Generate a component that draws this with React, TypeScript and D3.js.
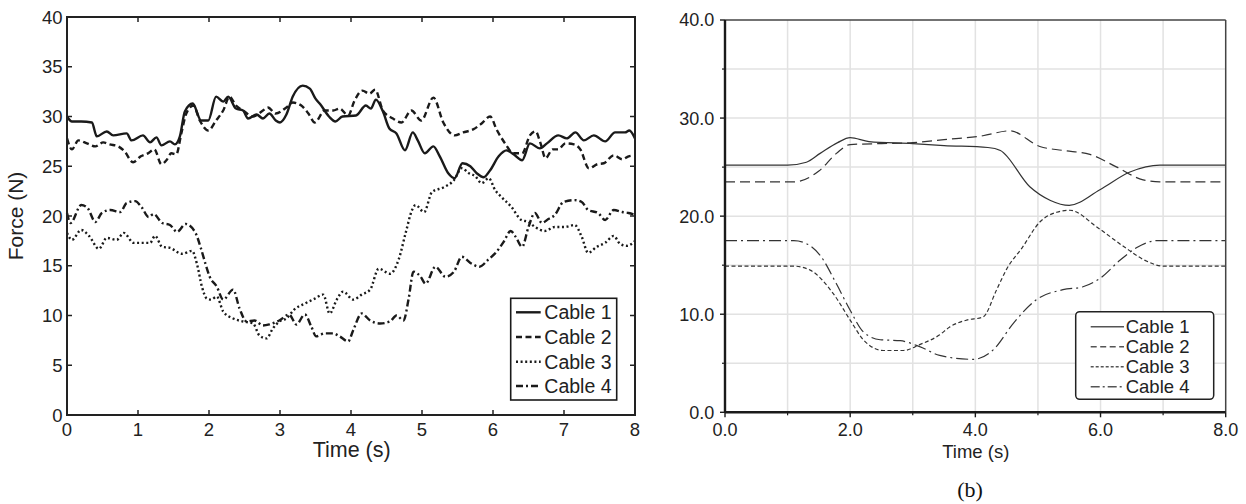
import React from "react";
import * as d3 from "d3";

// ---------- Data ----------
const seriesNames = ["Cable 1", "Cable 2", "Cable 3", "Cable 4"];

// Left panel: measured forces (time s, force N)
const leftCable1: [number, number][] = [[0,30.0],[0.07,29.5],[0.2,29.5],[0.35,29.4],[0.42,28.0],[0.56,28.5],[0.65,28.1],[0.84,28.3],[0.91,27.6],[1.07,28.1],[1.17,27.4],[1.26,27.9],[1.33,27.1],[1.45,27.5],[1.52,27.2],[1.59,28.0],[1.66,30.5],[1.77,31.3],[1.89,29.6],[1.99,29.6],[2.1,32.0],[2.2,31.5],[2.27,32.0],[2.38,30.8],[2.48,30.6],[2.55,29.8],[2.67,30.2],[2.76,29.8],[2.85,30.3],[2.94,29.6],[3.0,29.4],[3.09,30.2],[3.18,32.0],[3.32,33.1],[3.42,32.8],[3.5,31.8],[3.57,31.2],[3.69,30.0],[3.78,29.5],[3.88,30.0],[4.07,30.1],[4.21,31.1],[4.28,30.8],[4.35,31.7],[4.45,30.5],[4.54,28.8],[4.64,28.3],[4.76,26.6],[4.87,28.4],[4.94,27.6],[5.04,26.3],[5.16,27.0],[5.25,26.0],[5.37,24.3],[5.46,23.8],[5.57,25.3],[5.68,25.0],[5.77,24.3],[5.87,23.9],[5.96,24.6],[6.08,26.0],[6.19,26.6],[6.29,26.2],[6.41,25.6],[6.52,27.3],[6.66,26.8],[6.76,27.3],[6.92,28.1],[7.04,27.8],[7.16,28.4],[7.28,27.6],[7.42,28.1],[7.58,27.5],[7.72,28.4],[7.86,28.4],[7.92,28.6],[8.0,27.8]];
const leftCable2: [number, number][] = [[0,27.8],[0.07,26.7],[0.16,27.6],[0.28,27.3],[0.4,27.0],[0.51,27.4],[0.6,27.2],[0.72,27.0],[0.81,26.5],[0.93,25.4],[1.04,26.0],[1.14,26.3],[1.23,26.7],[1.33,25.2],[1.4,25.6],[1.47,26.3],[1.54,26.2],[1.61,28.3],[1.68,30.3],[1.78,31.1],[1.87,29.6],[1.99,28.6],[2.1,29.6],[2.2,30.6],[2.29,32.0],[2.38,31.1],[2.48,30.6],[2.62,30.0],[2.76,30.6],[2.83,30.9],[2.94,30.3],[3.09,30.9],[3.18,31.4],[3.3,31.1],[3.4,30.3],[3.49,29.4],[3.63,30.6],[3.75,30.6],[3.84,30.8],[3.96,30.1],[4.05,31.6],[4.16,32.6],[4.26,32.3],[4.34,32.7],[4.45,30.6],[4.59,29.8],[4.71,29.4],[4.85,30.6],[4.99,29.6],[5.16,31.9],[5.3,29.4],[5.46,28.1],[5.58,28.4],[5.72,28.7],[5.84,29.3],[5.96,30.0],[6.05,28.7],[6.17,27.3],[6.29,26.3],[6.41,26.3],[6.52,28.1],[6.6,28.5],[6.67,27.3],[6.74,25.8],[6.84,26.7],[6.92,26.7],[7.02,27.3],[7.14,27.2],[7.23,26.7],[7.35,24.8],[7.47,25.2],[7.56,25.3],[7.7,26.1],[7.82,25.7],[7.91,26.0],[8.0,26.1]];
const leftCable3: [number, number][] = [[0,18.3],[0.07,17.6],[0.2,18.6],[0.31,18.0],[0.45,16.7],[0.56,17.8],[0.7,17.6],[0.8,18.3],[0.94,17.3],[1.17,17.3],[1.24,18.0],[1.34,16.9],[1.45,16.8],[1.62,16.2],[1.76,16.5],[1.83,15.2],[1.9,12.9],[1.97,11.7],[2.03,11.6],[2.11,11.9],[2.2,10.4],[2.34,9.7],[2.48,9.4],[2.62,9.2],[2.71,8.0],[2.81,7.7],[2.9,8.7],[2.99,9.4],[3.09,9.7],[3.2,10.6],[3.35,11.2],[3.49,11.7],[3.61,12.1],[3.7,10.2],[3.8,11.6],[3.89,12.4],[4.03,11.6],[4.15,12.1],[4.27,12.6],[4.39,14.7],[4.55,14.2],[4.67,15.6],[4.77,18.3],[4.86,20.6],[4.91,21.1],[5.03,20.4],[5.14,22.4],[5.31,22.9],[5.45,23.6],[5.56,24.8],[5.66,24.3],[5.75,24.0],[5.84,23.3],[5.94,23.8],[6.03,22.6],[6.12,21.9],[6.26,20.9],[6.4,19.6],[6.5,19.4],[6.59,18.9],[6.73,18.5],[6.87,18.9],[7.01,18.9],[7.15,19.1],[7.25,17.9],[7.34,16.3],[7.46,16.9],[7.58,17.3],[7.7,18.0],[7.79,17.2],[7.89,17.0],[8.0,17.5]];
const leftCable4: [number, number][] = [[0,20.3],[0.05,19.3],[0.2,21.1],[0.29,20.8],[0.4,19.4],[0.49,20.3],[0.61,20.6],[0.75,20.4],[0.84,21.3],[0.96,21.5],[1.05,20.9],[1.15,19.9],[1.22,20.2],[1.34,19.3],[1.45,19.1],[1.55,18.4],[1.67,19.2],[1.81,18.3],[1.88,16.9],[1.95,15.2],[2.01,13.9],[2.11,12.9],[2.2,11.6],[2.34,12.6],[2.43,10.7],[2.53,9.4],[2.64,9.5],[2.76,9.0],[2.85,9.1],[2.99,9.5],[3.13,10.1],[3.23,9.1],[3.35,10.1],[3.44,8.9],[3.51,7.9],[3.63,8.2],[3.75,8.2],[3.84,7.9],[3.96,7.4],[4.03,8.5],[4.15,10.2],[4.27,9.5],[4.41,9.2],[4.55,9.4],[4.64,10.0],[4.74,9.5],[4.81,11.6],[4.88,14.4],[4.98,13.9],[5.05,13.2],[5.19,14.9],[5.33,13.9],[5.45,14.4],[5.56,15.9],[5.7,15.2],[5.81,14.9],[5.93,15.6],[6.05,16.4],[6.15,17.4],[6.25,18.5],[6.32,17.9],[6.41,16.9],[6.5,18.9],[6.59,20.3],[6.69,19.3],[6.78,19.7],[6.87,20.1],[6.99,21.4],[7.15,21.6],[7.25,21.4],[7.34,20.6],[7.48,20.3],[7.58,19.6],[7.7,20.6],[7.82,20.4],[7.91,20.3],[8.0,20.1]];

// Right panel (b): simulated forces
const rightCable1: [number, number][] = [[0,25.2],[1.0,25.2],[1.3,25.5],[1.52,26.4],[1.8,27.5],[2.0,28.0],[2.3,27.6],[3.0,27.4],[3.5,27.2],[4.2,27.0],[4.4,26.7],[4.87,23.0],[5.2,21.6],[5.5,21.1],[5.99,22.7],[6.47,24.5],[6.95,25.2],[8,25.2]];
const rightCable2: [number, number][] = [[0,23.5],[1.1,23.5],[1.5,24.6],[1.78,26.4],[2.0,27.3],[2.5,27.4],[3.0,27.5],[3.5,27.8],[4.12,28.2],[4.55,28.7],[5.03,27.1],[5.4,26.7],[5.83,26.3],[6.26,25.0],[6.68,23.7],[6.95,23.5],[8,23.5]];
const rightCable3: [number, number][] = [[0,14.9],[1.1,14.9],[1.36,14.5],[1.73,12.1],[2.0,9.4],[2.21,7.4],[2.53,6.3],[2.85,6.3],[3.11,6.9],[3.43,7.9],[3.59,8.7],[3.86,9.4],[4.12,9.7],[4.34,12.5],[4.5,14.6],[4.75,16.8],[5.03,19.4],[5.3,20.4],[5.51,20.6],[5.94,18.9],[6.37,16.9],[6.74,15.4],[7.0,14.9],[8,14.9]];
const rightCable4: [number, number][] = [[0,17.5],[1.1,17.5],[1.3,17.2],[1.52,16.0],[1.78,13.1],[2.0,10.4],[2.21,8.2],[2.48,7.4],[2.8,7.3],[3.11,6.7],[3.43,5.8],[3.97,5.4],[4.29,6.4],[4.61,9.1],[4.98,11.5],[5.4,12.5],[5.72,12.8],[6.0,13.7],[6.31,15.5],[6.58,16.8],[6.9,17.5],[8,17.5]];

const leftXTicks = [0, 1, 2, 3, 4, 5, 6, 7, 8];
const leftYTicks = [0, 5, 10, 15, 20, 25, 30, 35, 40];
const rightXTicks = [0, 2, 4, 6, 8];
const rightXMinor = [1, 3, 5, 7];
const rightYTicks = [0, 10, 20, 30, 40];
const rightYMinor = [5, 15, 25, 35];

const leftSeries = [leftCable1, leftCable2, leftCable3, leftCable4];
const rightSeries = [rightCable1, rightCable2, rightCable3, rightCable4];

const leftDash = [null, "6,3.5", "2,2.6", "7,3,2,3"];
const rightDash = [null, "10,5", "4,2.5", "12,4,2,4"];
const rightLegendDash = [null, "6,3.5", "3,2", "9,3,2,3"];

const FONT = "'Liberation Sans', Arial, Helvetica, sans-serif";

export default function App() {
  const xL = d3.scaleLinear().domain([0, 8]).range([67, 635]);
  const yL = d3.scaleLinear().domain([0, 40]).range([415, 17]);
  const xR = d3.scaleLinear().domain([0, 8]).range([725, 1225.7]);
  const yR = d3.scaleLinear().domain([0, 40]).range([412.3, 20]);

  const lineL = d3.line<[number, number]>().x(d => xL(d[0])).y(d => yL(d[1])).curve(d3.curveMonotoneX);
  const lineR = d3.line<[number, number]>().x(d => xR(d[0])).y(d => yR(d[1])).curve(d3.curveMonotoneX);

  const legL = { x: 510.7, y: 298.3, w: 106, h: 101.7, rows: [312.3, 337, 361.7, 386] };
  const legR = { x: 1075.7, y: 311.7, w: 138, h: 87.6, rows: [326.7, 346.7, 366.7, 386.7] };

  return (
    <svg width={1246} height={504} style={{ position: "absolute", left: 0, top: 0, background: "#fff" }} fontFamily={FONT}>
      {/* ---------------- Left panel ---------------- */}
      <g>
        {leftSeries.map((s, i) => (
          <path key={i} d={lineL(s) || ""} fill="none" stroke="#1a1a1a" strokeWidth={2.4}
            strokeDasharray={leftDash[i] || undefined} strokeLinejoin="round" />
        ))}
        <rect x={xL(0)} y={yL(40)} width={xL(8) - xL(0)} height={yL(0) - yL(40)} fill="none" stroke="#222" strokeWidth={2} />
        {leftXTicks.map(t => (
          <g key={"lxt" + t}>
            <line x1={xL(t)} x2={xL(t)} y1={yL(0)} y2={yL(0) - 5} stroke="#222" strokeWidth={1.5} />
            <line x1={xL(t)} x2={xL(t)} y1={yL(40)} y2={yL(40) + 5} stroke="#222" strokeWidth={1.5} />
            <text x={xL(t)} y={435.7} fontSize={18.5} textAnchor="middle" fill="#222">{String(t)}</text>
          </g>
        ))}
        {leftYTicks.map(v => (
          <g key={"lyt" + v}>
            <line x1={xL(0)} x2={xL(0) + 5} y1={yL(v)} y2={yL(v)} stroke="#222" strokeWidth={1.5} />
            <line x1={xL(8)} x2={xL(8) - 5} y1={yL(v)} y2={yL(v)} stroke="#222" strokeWidth={1.5} />
            <text x={62.5} y={yL(v)} dy="0.36em" fontSize={18.5} textAnchor="end" fill="#222">{String(v)}</text>
          </g>
        ))}
        <text x={351.7} y={457.3} fontSize={21.5} textAnchor="middle" fill="#222">Time (s)</text>
        <text transform={`translate(23,216) rotate(-90)`} fontSize={21} textAnchor="middle" fill="#222">Force (N)</text>
        <rect x={legL.x} y={legL.y} width={legL.w} height={legL.h} fill="#fff" stroke="#1a1a1a" strokeWidth={1.6} />
        {seriesNames.map((n, i) => (
          <g key={"ll" + i}>
            <line x1={516} x2={540.7} y1={legL.rows[i]} y2={legL.rows[i]} stroke="#1a1a1a" strokeWidth={2.4}
              strokeDasharray={leftDash[i] || undefined} />
            <text x={544.3} y={legL.rows[i]} dy="0.36em" fontSize={19.5} fill="#222">{n}</text>
          </g>
        ))}
      </g>

      {/* ---------------- Right panel ---------------- */}
      <g>
        {[...rightXTicks, ...rightXMinor].filter(t => t > 0 && t < 8).map(t => (
          <line key={"rgx" + t} x1={xR(t)} x2={xR(t)} y1={yR(0)} y2={yR(40)} stroke="#e2e2e2" strokeWidth={1.5} />
        ))}
        {[...rightYTicks, ...rightYMinor].filter(v => v > 0 && v < 40).map(v => (
          <line key={"rgy" + v} x1={xR(0)} x2={xR(8)} y1={yR(v)} y2={yR(v)} stroke="#e2e2e2" strokeWidth={1.5} />
        ))}
        {rightSeries.map((s, i) => (
          <path key={i} d={lineR(s) || ""} fill="none" stroke="#333" strokeWidth={1.2}
            strokeDasharray={rightDash[i] || undefined} />
        ))}
        <line x1={xR(0)} x2={xR(8)} y1={yR(40)} y2={yR(40)} stroke="#444" strokeWidth={1.5} />
        <line x1={xR(8)} x2={xR(8)} y1={yR(40)} y2={yR(0)} stroke="#444" strokeWidth={1.5} />
        <line x1={xR(0)} x2={xR(8)} y1={yR(0)} y2={yR(0)} stroke="#1a1a1a" strokeWidth={2.4} />
        <line x1={xR(0)} x2={xR(0)} y1={yR(0)} y2={yR(40)} stroke="#1a1a1a" strokeWidth={2.4} />
        {rightXTicks.map(t => (
          <g key={"rxt" + t}>
            <line x1={xR(t)} x2={xR(t)} y1={yR(0)} y2={yR(0) + 5} stroke="#1a1a1a" strokeWidth={1.4} />
            <text x={xR(t)} y={435.7} fontSize={18} textAnchor="middle" fill="#222">{t.toFixed(1)}</text>
          </g>
        ))}
        {rightXMinor.map(t => (
          <line key={"rxm" + t} x1={xR(t)} x2={xR(t)} y1={yR(0)} y2={yR(0) + 3} stroke="#1a1a1a" strokeWidth={1.2} />
        ))}
        {rightYTicks.map(v => (
          <g key={"ryt" + v}>
            <line x1={xR(0) - 5} x2={xR(0)} y1={yR(v)} y2={yR(v)} stroke="#1a1a1a" strokeWidth={1.4} />
            <text x={714.3} y={yR(v)} dy="0.36em" fontSize={18} textAnchor="end" fill="#222">{v.toFixed(1)}</text>
          </g>
        ))}
        {rightYMinor.map(v => (
          <line key={"rym" + v} x1={xR(0) - 3} x2={xR(0)} y1={yR(v)} y2={yR(v)} stroke="#1a1a1a" strokeWidth={1.2} />
        ))}
        <text x={975.8} y={458.3} fontSize={18.5} textAnchor="middle" fill="#222">Time (s)</text>
        <text x={970} y={496.7} fontSize={22} textAnchor="middle" fill="#111" fontFamily="'Liberation Serif', 'Times New Roman', serif">(b)</text>
        <rect x={legR.x} y={legR.y} width={legR.w} height={legR.h} rx={4} fill="#fff" stroke="#222" strokeWidth={1.5} />
        {seriesNames.map((n, i) => (
          <g key={"rl" + i}>
            <line x1={1090.7} x2={1124} y1={legR.rows[i]} y2={legR.rows[i]} stroke="#555" strokeWidth={1.4}
              strokeDasharray={rightLegendDash[i] || undefined} />
            <text x={1125.7} y={legR.rows[i]} dy="0.36em" fontSize={18.5} fill="#222">{n}</text>
          </g>
        ))}
      </g>
    </svg>
  );
}
